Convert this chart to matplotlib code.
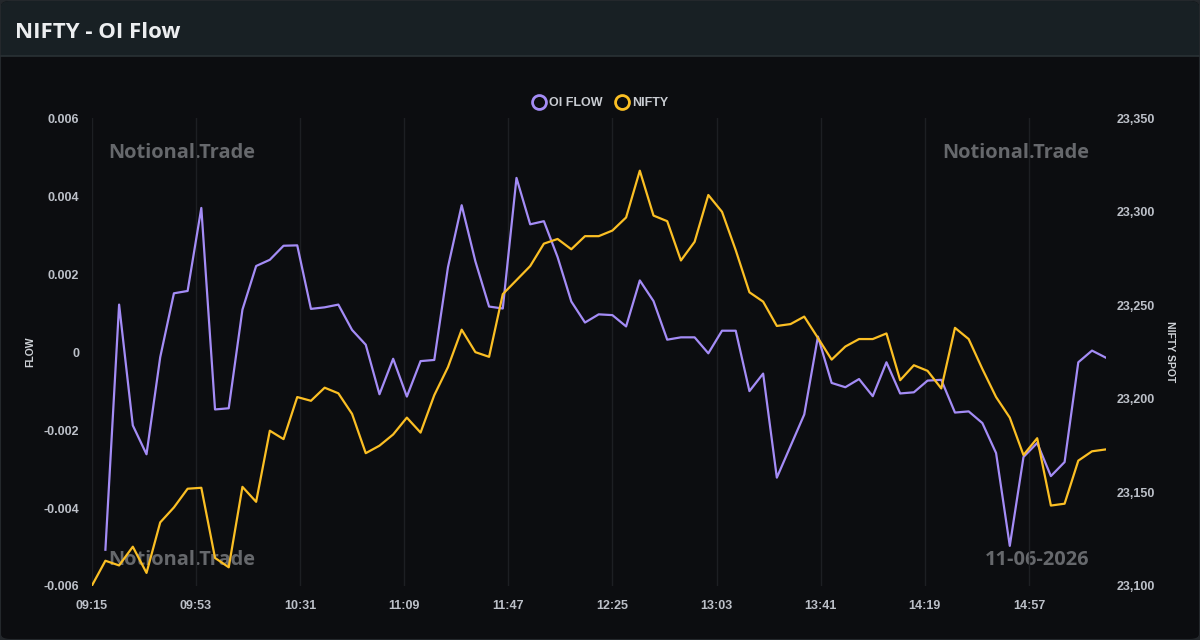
import numpy as np
import matplotlib
matplotlib.use("Agg")
import matplotlib.pyplot as plt
from matplotlib.lines import Line2D
from matplotlib.patches import FancyBboxPatch, Rectangle

# ---- data (5-minute points from 09:15) ----
minutes = list(range(0, 371, 5))
flow = [np.nan, -0.00507, 0.00122, -0.00188, -0.00262, -0.00013, 0.00151, 0.00157, 0.00370,
        -0.00147, -0.00144, 0.00109, 0.00221, 0.00237, 0.00273, 0.00274, 0.00111, 0.00115,
        0.00122, 0.00057, 0.00019, -0.00108, -0.00017, -0.00114, -0.00023, -0.00020,
        0.00218, 0.00377, 0.00233, 0.00117, 0.00112, 0.00447, 0.00328, 0.00336, 0.00244,
        0.00130, 0.00076, 0.00097, 0.00095, 0.00066, 0.00184, 0.00131, 0.00032, 0.00038,
        0.00038, -0.00003, 0.00055, 0.00055, -0.00100, -0.00055, -0.00322, -0.00241,
        -0.00160, 0.00040, -0.00079, -0.00090, -0.00069, -0.00113, -0.00026, -0.00106,
        -0.00103, -0.00073, -0.00071, -0.00155, -0.00152, -0.00182, -0.00259, -0.00497,
        -0.00269, -0.00233, -0.00318, -0.00282, -0.00026, 0.00004, -0.00014]
nifty = [23100, 23113.5, 23111, 23121, 23107, 23134, 23142, 23152, 23152.5, 23115, 23110,
         23153, 23145, 23183, 23178.5, 23201, 23199, 23206, 23203, 23192, 23171, 23175,
         23181, 23190, 23182, 23202, 23217, 23237, 23225, 23222.5, 23256, 23263.5, 23271,
         23283, 23285.5, 23280, 23287, 23287, 23290, 23297, 23322, 23298, 23295, 23274,
         23284, 23309, 23300, 23279.5, 23257, 23252, 23239, 23240, 23244, 23232.6, 23221,
         23228, 23232, 23232, 23235, 23210, 23218, 23215, 23205.6, 23238, 23232, 23216,
         23201, 23190, 23170, 23179, 23143, 23144, 23167, 23172, 23173]
tick_minutes = [0, 38, 76, 114, 152, 190, 228, 266, 304, 342]
tick_labels = ["09:15", "09:53", "10:31", "11:09", "11:47", "12:25", "13:03", "13:41", "14:19", "14:57"]
flow_ticks = [-0.006, -0.004, -0.002, 0, 0.002, 0.004, 0.006]
flow_tick_labels = ["-0.006", "-0.004", "-0.002", "0", "0.002", "0.004", "0.006"]
spot_ticks = [23100, 23150, 23200, 23250, 23300, 23350]

W, H = 1200, 640
PURPLE = "#a48cf6"
YELLOW = "#fbbf24"
TICK = "#bcc0c8"
BODY = "#0c0d10"
HEADER = "#182024"

fig = plt.figure(figsize=(W / 100, H / 100), dpi=100)
fig.patch.set_facecolor("#24282c")

# card background
fig.patches.append(FancyBboxPatch((0.5 / W, 0.5 / H), 1 - 1 / W, 1 - 1 / H,
                                  boxstyle="round,pad=0,rounding_size=0.008",
                                  transform=fig.transFigure, facecolor=BODY,
                                  edgecolor="#24282c", linewidth=0.8, zorder=-2))
# header
hdr_h = 56 / H
fig.patches.append(Rectangle((1 / W, 1 - hdr_h), 1 - 2 / W, hdr_h - 6 / H,
                             transform=fig.transFigure, facecolor=HEADER, edgecolor="none", zorder=-1.5))
fig.patches.append(FancyBboxPatch((1 / W, 1 - hdr_h + 6 / H), 1 - 2 / W, hdr_h - 7 / H,
                                  boxstyle="round,pad=0,rounding_size=0.008",
                                  transform=fig.transFigure, facecolor=HEADER, edgecolor="none", zorder=-1.5))
fig.add_artist(Line2D([1 / W, 1 - 1 / W], [1 - hdr_h, 1 - hdr_h], transform=fig.transFigure,
                      color="#2a3235", linewidth=1.2, zorder=-1))
fig.text(15 / W, 1 - 33 / H, "NIFTY - OI Flow", fontsize=16, fontweight="bold",
         family="Open Sans", color="#eceef0", va="center", ha="left")

# watermarks
wm = dict(fontsize=14.4, fontweight="bold", family="Open Sans", color="#66686c", va="center", zorder=-1)
fig.text(108 / W, 1 - 153 / H, "Notional.Trade", ha="left", **wm)
fig.text(1089 / W, 1 - 153 / H, "Notional.Trade", ha="right", **wm)
fig.text(108 / W, 1 - 560 / H, "Notional.Trade", ha="left", **wm)
fig.text(1089 / W, 1 - 560 / H, "11-06-2026", ha="right", **wm)

left, right, top, bottom = 91.7, 1105.7, 118.3, 586
ax = fig.add_axes([left / W, 1 - bottom / H, (right - left) / W, (bottom - top) / H])
ax.set_facecolor("none")
ax2 = ax.twinx()
ax.set_zorder(2)
ax2.set_zorder(3)
ax2.patch.set_visible(False)

ax.plot(minutes, flow, color=PURPLE, lw=1.6, solid_joinstyle="round", zorder=3)
ax2.plot(minutes, nifty, color=YELLOW, lw=1.6, solid_joinstyle="round", zorder=3)

ax.set_xlim(0, 370)
ax.set_ylim(-0.006, 0.006)
ax2.set_ylim(23100, 23350)
ax.set_xticks(tick_minutes)
ax.set_xticklabels(tick_labels)
ax.set_yticks(flow_ticks)
ax.set_yticklabels(flow_tick_labels)
ax2.set_yticks(spot_ticks)
ax2.set_yticklabels([f"{v:,}" for v in spot_ticks])
ax.grid(axis="x", color="#1d1f23", lw=1)
ax.grid(axis="y", visible=False)
for a in (ax, ax2):
    for s in a.spines.values():
        s.set_visible(False)
    a.tick_params(length=0, colors=TICK, labelsize=9)
    for lab in a.get_xticklabels() + a.get_yticklabels():
        lab.set_fontweight("bold")
        lab.set_family("Liberation Sans")
ax.tick_params(axis="x", pad=10)
ax.tick_params(axis="y", pad=9)
ax2.tick_params(axis="y", pad=8)

fig.text(30 / W, 1 - 352 / H, "FLOW", rotation=90, fontsize=7.5, fontweight="bold",
         family="Liberation Sans", color="#d0d3d8", ha="center", va="center")
fig.text(1170 / W, 1 - 352 / H, "NIFTY SPOT", rotation=-90, fontsize=7.5, fontweight="bold",
         family="Liberation Sans", color="#d0d3d8", ha="center", va="center")

# legend
handles = [Line2D([], [], marker="o", ls="none", markersize=10, markerfacecolor="none",
                  markeredgecolor=PURPLE, markeredgewidth=2, label="OI FLOW"),
           Line2D([], [], marker="o", ls="none", markersize=10, markerfacecolor="none",
                  markeredgecolor=YELLOW, markeredgewidth=2, label="NIFTY")]
leg = fig.legend(handles=handles, loc="center", bbox_to_anchor=(600 / W, 1 - 103 / H), ncol=2,
                 frameon=False, handletextpad=0.2, columnspacing=1.0, handlelength=1.2,
                 prop={"family": "Liberation Sans", "weight": "bold", "size": 9})
for t in leg.get_texts():
    t.set_color("#c9ccd2")

fig.savefig("out.png", dpi=100, facecolor=fig.get_facecolor())
